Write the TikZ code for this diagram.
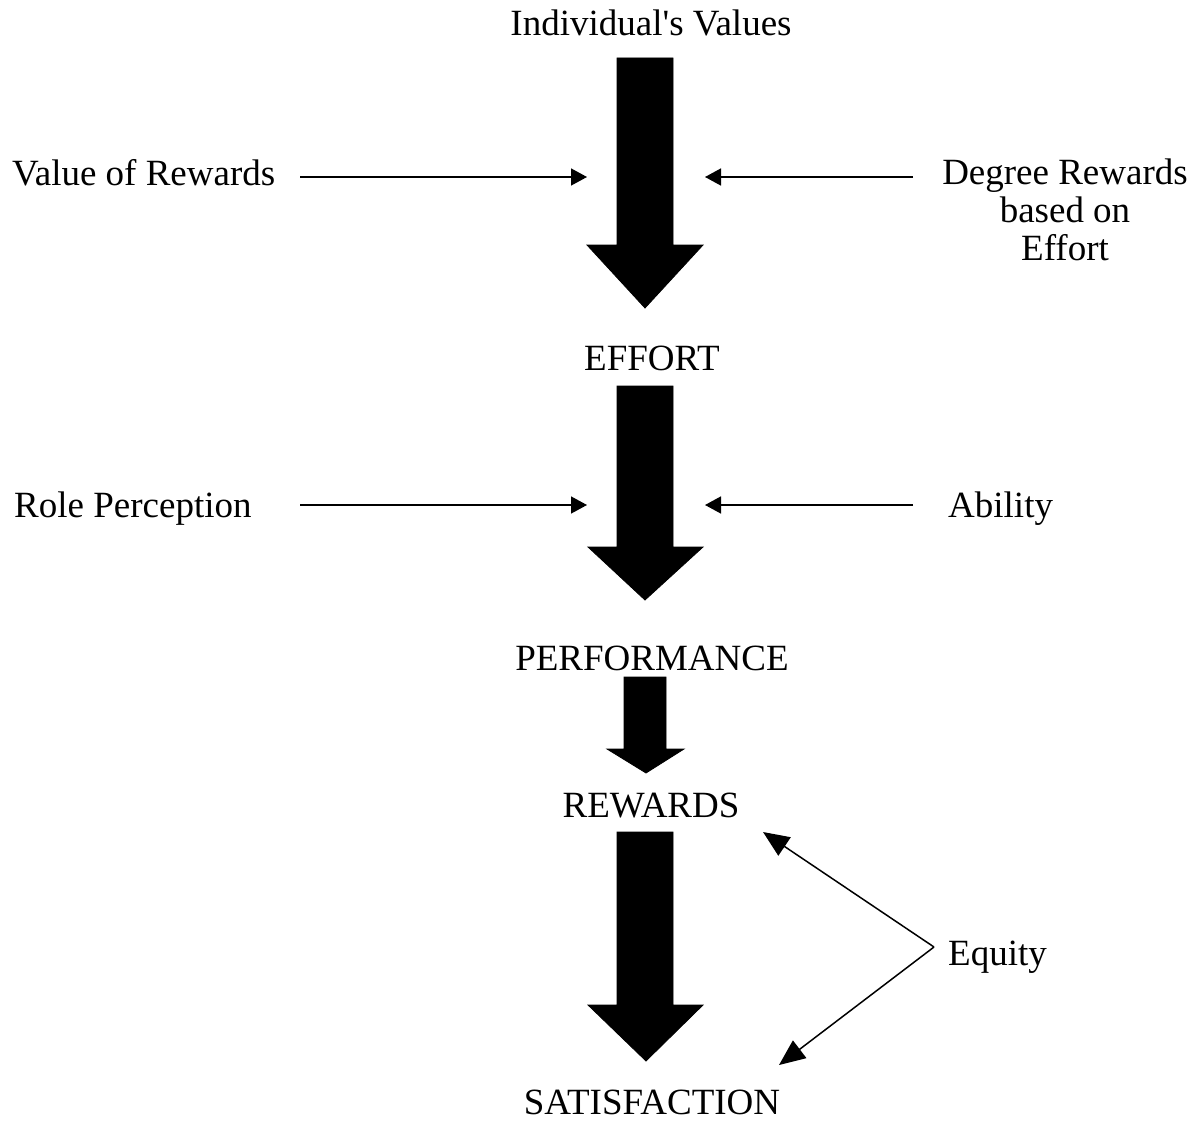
\documentclass[tikz,border=0pt]{standalone}
\usepackage{fontspec}
\setmainfont{Liberation Serif}
\usetikzlibrary{arrows.meta}
\tikzset{
  lbl/.style={font=\fontsize{37}{38}\selectfont, inner sep=0pt, align=center},
  conn/.style={line width=1.5pt, -{Triangle[length=16pt,width=17pt]}},
  eq/.style={line width=1.5pt, -{Triangle[length=26pt,width=22pt]}},
  blk/.style={fill=black, draw=black, line width=0.8pt, line join=miter}
}
\begin{document}
\begin{tikzpicture}[x=1pt,y=-1pt]
\useasboundingbox (0,0) rectangle (1199,1121);
% block arrows
\filldraw[blk] (617,58) -- (673,58) -- (673,245) -- (703,245) -- (645,308) -- (587,245) -- (617,245) -- cycle;
\filldraw[blk] (617,386) -- (673,386) -- (673,547) -- (703,547) -- (645,600) -- (588,547) -- (617,547) -- cycle;
\filldraw[blk] (624,677) -- (666,677) -- (666,749) -- (684,749) -- (646,773) -- (607,749) -- (624,749) -- cycle;
\filldraw[blk] (617,832) -- (673,832) -- (673,1005) -- (703,1005) -- (646,1061) -- (588,1005) -- (617,1005) -- cycle;
% labels
\node[lbl] (iv) at (651,23) {Individual\textquotesingle s Values};
\node[lbl, anchor=west] (vr) at (12,173) {Value of Rewards};
\node[lbl] (dr) at (1065,210) {Degree Rewards\\based on\\Effort};
\node[lbl] (effort) at (652,358) {EFFORT};
\node[lbl, anchor=west] (rp) at (14,509) {Role Perception};
\node[lbl, anchor=west] (ab) at (948,509) {Ability};
\node[lbl] (perf) at (652,658) {PERFORMANCE};
\node[lbl] (rew) at (651,806) {REWARDS};
\node[lbl, anchor=west] (eqt) at (948,957) {Equity};
\node[lbl] (sat) at (652,1102) {SATISFACTION};
% connector ends
\coordinate (v1s) at (300,177);
\coordinate (v1e) at (587,177);
\coordinate (d1s) at (913,177);
\coordinate (d1e) at (705,177);
\coordinate (r1s) at (300,505);
\coordinate (r1e) at (587,505);
\coordinate (a1s) at (913,505);
\coordinate (a1e) at (705,505);
\coordinate (ev) at (934,947);
\coordinate (eu) at (763,832);
\coordinate (ed) at (779,1065);
% connectors
\draw[conn] (v1s) -- (v1e);
\draw[conn] (d1s) -- (d1e);
\draw[conn] (r1s) -- (r1e);
\draw[conn] (a1s) -- (a1e);
\draw[eq] (ev) -- (eu);
\draw[eq] (ev) -- (ed);
\end{tikzpicture}
\end{document}
